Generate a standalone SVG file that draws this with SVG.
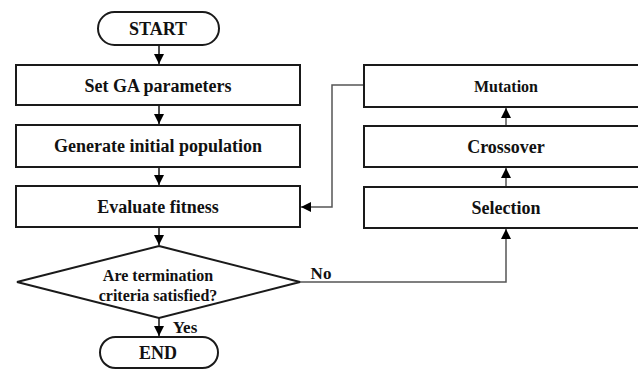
<svg xmlns="http://www.w3.org/2000/svg" width="638" height="370" viewBox="0 0 638 370" font-family="Liberation Serif">
<style>
.box{fill:#fff;stroke:#1a1a1a;stroke-width:2}
.t{font-family:"Liberation Serif",serif;font-weight:bold;fill:#111;text-anchor:middle;dominant-baseline:central}
.c{fill:none;stroke:#555;stroke-width:1.5}
.cd{fill:none;stroke:#111;stroke-width:1.5}
</style>
<defs>
<marker id="ah" viewBox="0 0 10 10" refX="10" refY="5" markerWidth="10" markerHeight="10" markerUnits="userSpaceOnUse" orient="auto">
<path d="M0,0 L10,5 L0,10 Z" fill="#000"/>
</marker>
</defs>
<rect width="638" height="370" fill="#fff"/>
<g id="connectors">
<line class="cd" x1="159" y1="45" x2="159" y2="64" marker-end="url(#ah)"/>
<line class="cd" x1="159" y1="105" x2="159" y2="124" marker-end="url(#ah)"/>
<line class="cd" x1="159" y1="167" x2="159" y2="185" marker-end="url(#ah)"/>
<line class="cd" x1="159" y1="227" x2="159" y2="245" marker-end="url(#ah)"/>
<line class="cd" x1="159" y1="318" x2="159" y2="336" marker-end="url(#ah)"/>
<polyline class="c" points="300,282 506,282 506,229" marker-end="url(#ah)"/>
<line class="c" x1="506" y1="187" x2="506" y2="168" marker-end="url(#ah)"/>
<line class="c" x1="506" y1="126" x2="506" y2="108" marker-end="url(#ah)"/>
<polyline class="c" points="364,85 332,85 332,207 301,207" marker-end="url(#ah)"/>
<text class="t" x="185" y="327" font-size="17">Yes</text>
<text class="t" x="321" y="273" font-size="17">No</text>
</g>
<g id="start">
<rect class="box" x="98" y="12" width="121" height="33" rx="16.5"/>
<text class="t" x="158" y="29" font-size="18">START</text>
</g>
<g id="setga">
<rect class="box" x="16" y="65" width="284" height="40"/>
<text class="t" x="158" y="86" font-size="18">Set GA parameters</text>
</g>
<g id="generate">
<rect class="box" x="16" y="125" width="284" height="42"/>
<text class="t" x="158" y="146" font-size="18">Generate initial population</text>
</g>
<g id="evaluate">
<rect class="box" x="16" y="186" width="284" height="41"/>
<text class="t" x="158" y="207" font-size="18">Evaluate fitness</text>
</g>
<g id="decision">
<polygon class="box" points="159,246 300,282 159,318 17,282"/>
<text class="t" x="158" y="275" font-size="16">Are termination</text>
<text class="t" x="158" y="295" font-size="16">criteria satisfied?</text>
</g>
<g id="end">
<rect class="box" x="100" y="337" width="118" height="31" rx="15.5"/>
<text class="t" x="158" y="353" font-size="18">END</text>
</g>
<g id="mutation">
<rect class="box" x="364" y="65" width="284" height="42"/>
<text class="t" x="506" y="86" font-size="16">Mutation</text>
</g>
<g id="crossover">
<rect class="box" x="364" y="126" width="284" height="41"/>
<text class="t" x="506" y="147" font-size="18">Crossover</text>
</g>
<g id="selection">
<rect class="box" x="364" y="187" width="284" height="41"/>
<text class="t" x="506" y="208" font-size="18">Selection</text>
</g>
</svg>
